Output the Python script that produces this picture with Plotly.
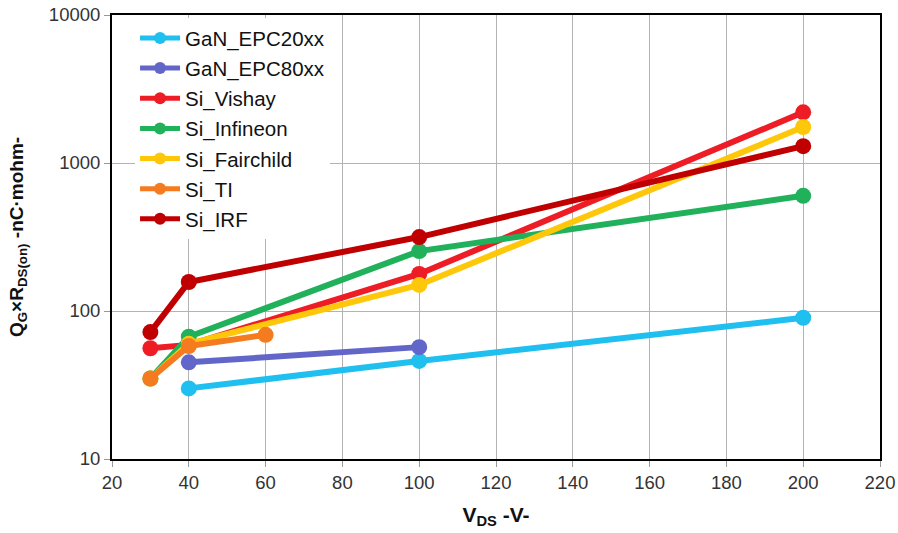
import plotly.graph_objects as go

series_names = ["GaN_EPC20xx", "GaN_EPC80xx", "Si_Vishay", "Si_Infineon", "Si_Fairchild", "Si_TI", "Si_IRF"]
colors = ["#1fbff0", "#6366c9", "#ee1c25", "#21b15b", "#fec70a", "#f47b20", "#c00000"]

x_epc20 = [40, 100, 200]
y_epc20 = [30, 46, 90]
x_epc80 = [40, 100]
y_epc80 = [45, 57]
x_vishay = [30, 40, 100, 200]
y_vishay = [56, 59, 178, 2200]
x_infineon = [30, 40, 100, 200]
y_infineon = [35, 67, 254, 600]
x_fairchild = [30, 40, 100, 200]
y_fairchild = [35, 60, 150, 1750]
x_ti = [30, 40, 60]
y_ti = [35, 58, 69]
x_irf = [30, 40, 100, 200]
y_irf = [72, 157, 316, 1300]

xs = [x_epc20, x_epc80, x_vishay, x_infineon, x_fairchild, x_ti, x_irf]
ys = [y_epc20, y_epc80, y_vishay, y_infineon, y_fairchild, y_ti, y_irf]

x_ticks = [20, 40, 60, 80, 100, 120, 140, 160, 180, 200, 220]
y_ticks = [10, 100, 1000, 10000]

fig = go.Figure()
for i in range(len(series_names)):
    fig.add_trace(go.Scatter(
        x=xs[i], y=ys[i], name=series_names[i], mode="lines+markers",
        legendgroup="g%d" % i,
        line=dict(color=colors[i], width=6),
        marker=dict(color=colors[i], size=16),
    ))

fig.update_layout(
    width=898, height=533,
    margin=dict(l=112, r=18, t=15, b=74),
    paper_bgcolor="white", plot_bgcolor="white",
    font=dict(family="Liberation Sans, Arial, sans-serif", size=18.5, color="#222"),
    showlegend=True,
    legend=dict(x=0.03, y=0.993, xanchor="left", yanchor="top",
                bgcolor="rgba(255,255,255,1)", font=dict(size=20.5, color="#111"),
                itemwidth=40, tracegroupgap=0.5, itemsizing="constant"),
)
fig.update_xaxes(
    range=[20, 220], tickvals=x_ticks, ticks="outside", ticklen=6, tickcolor="#999",
    showgrid=True, gridcolor="#b3b3b3", gridwidth=1,
    showline=True, linecolor="black", linewidth=2, mirror=True,
    title=dict(text="<b>V<sub>DS</sub> -V-</b>", font=dict(size=21, color="#111"), standoff=15),
    tickfont=dict(size=18.5, color="#333"), zeroline=False, automargin=False,
)
fig.update_yaxes(
    type="log", range=[1, 4], tickvals=y_ticks, ticktext=[str(v) for v in y_ticks],
    ticks="outside", ticklen=6, tickcolor="#999",
    showgrid=True, gridcolor="#b3b3b3", gridwidth=1,
    showline=True, linecolor="black", linewidth=2, mirror=True,
    tickfont=dict(size=18.5, color="#333"), automargin=False,
)
fig.add_annotation(
    text="<b>Q<sub>G</sub>×R<sub>DS(on)</sub> -nC·mohm-</b>",
    xref="paper", yref="paper", x=0, y=0.5, xanchor="center", yanchor="middle",
    xshift=-94, textangle=-90, showarrow=False,
    font=dict(size=19, color="#111"),
)
fig.write_html("out.html", config={"displayModeBar": False},
               post_script="document.body.style.margin='0px';")
